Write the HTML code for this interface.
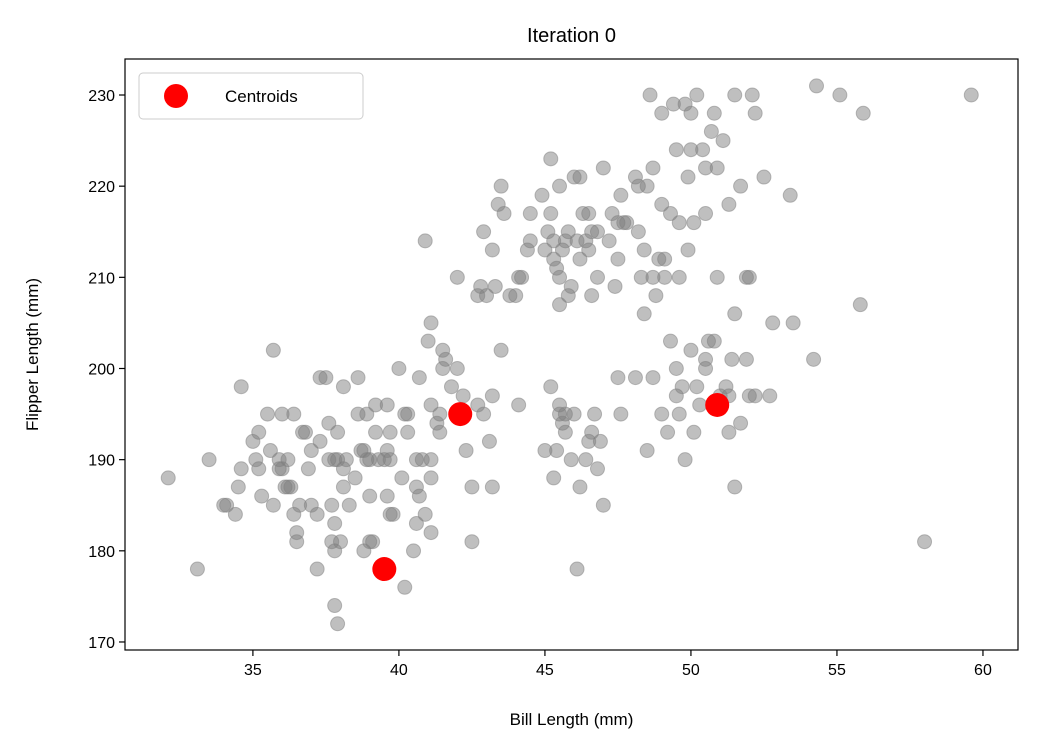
<!DOCTYPE html>
<html><head><meta charset="utf-8"><style>
body{margin:0;background:#fff;font-family:"Liberation Sans","DejaVu Sans",sans-serif}
</style></head><body>
<svg id="chart" width="1037" height="751" xmlns="http://www.w3.org/2000/svg"></svg>
<script>
const pointsX=[32.1,33.1,33.5,34.1,34.4,34.5,34.6,34.6,35,35.1,35.2,35.3,35.5,35.6,35.7,35.7,35.9,36,36,36.2,36.3,36.4,36.5,36.5,36.6,36.7,36.8,36.9,37,37.2,37.2,37.3,37.3,37.5,37.6,37.7,37.7,37.8,37.8,37.9,37.8,37.9,38,38.1,38.1,38.2,38.3,38.6,38.7,38.8,38.8,38.9,39,39,39.1,39.2,39.3,39.6,39.6,39.6,39.7,39.8,39.7,40.1,40.2,40.3,40.3,40.5,40.6,40.6,40.8,40.9,41,41.1,41.1,41.1,41.1,41.3,41.4,41.5,41.6,41.8,42,42.2,42.3,42.5,42.7,42.9,43.2,43.2,43.1,43.5,44.1,36.2,37.6,38.5,39.5,40.7,41.4,40,40.7,35.9,35.2,36.4,38.9,37.9,39.2,40.6,41.1,34,36.1,37.8,38.6,39.7,40.2,41.5,42.5,39,38.1,37,
45.2,45.4,45.5,45.6,45.7,45.7,45.9,46,46.1,46.2,46.4,46.5,46.6,46.7,46.8,47,47.5,47.6,48.1,48.5,49,49.2,49.3,49.5,49.6,49.7,49.8,50,50.1,50.2,50.3,50.5,50.6,50.8,51,51.2,51.3,51.4,51.5,51.7,51.9,52,52.2,52.7,53.5,54.2,55.8,58,52.8,52,51.9,50.9,51.5,49.6,45,45.3,49.5,46.9,45.5,50.5,48.7,51.3,
40.9,42,42.7,42.8,42.9,43.2,43.3,43.4,43.5,43.6,43.8,44,44.1,44.4,44.5,44.9,45.1,45.2,45.5,45.5,45.3,45.4,45.5,45.7,45.8,46.1,46.2,46.4,46.5,46.8,47,47.3,47.5,47.7,48.1,48.2,48.4,48.5,48.6,48.7,49,49.1,49.3,49.5,49.6,49.8,50,50.2,50.4,50.5,50.7,50.8,51.1,51.3,51.5,52.1,52.2,52.5,53.4,54.3,55.1,55.9,59.6,48.4,48.8,49.9,50.1,46.6,45.9,47.4,48.3,45,43,44.2,46.8,47.6,49,50.5,51.7,46,46.3,48.2,47.8,45.3,46.6,47.5,50.9,49.9,45.8,49.1,48.7,44.5,46.5,47.2,45.2,50,49.4,45.6,46.2,48.9];
const pointsY=[188,178,190,185,184,187,189,198,192,190,193,186,195,191,185,202,190,189,195,187,187,184,181,182,185,193,193,189,185,184,178,192,199,199,194,181,185,183,174,172,190,193,181,187,198,190,185,199,191,180,191,190,181,186,181,196,190,186,191,196,184,184,193,188,176,193,195,180,187,183,190,184,203,182,188,190,205,194,195,202,201,198,200,197,191,187,196,195,197,187,192,202,196,190,190,188,190,186,193,200,199,189,189,195,195,190,193,190,196,185,187,180,195,190,195,200,181,190,189,191,
198,191,196,194,195,193,190,195,178,187,190,192,193,195,189,185,199,195,199,191,195,193,203,200,195,198,190,202,193,198,196,201,203,203,197,198,193,201,187,194,201,197,197,197,205,201,207,181,205,210,210,210,206,210,191,188,197,192,195,200,199,197,
214,210,208,209,215,213,209,218,220,217,208,208,210,213,214,219,215,223,220,210,212,211,207,214,215,214,221,214,217,215,222,217,212,216,221,215,213,220,230,222,228,212,217,224,216,229,224,230,224,222,226,228,225,218,230,230,228,221,219,231,230,228,230,206,208,213,216,208,209,209,210,213,208,210,210,219,218,217,220,221,217,220,216,214,215,216,222,221,208,210,210,217,213,214,217,228,229,213,212,212];
const centroidX=[39.5,42.1,50.9];
const centroidY=[178,195,196];
const xTicks=[35,40,45,50,55,60];
const yTicks=[170,180,190,200,210,220,230];

const NS="http://www.w3.org/2000/svg";
const svg=document.getElementById('chart');
const L=125,R=1018,T=59,B=650;
const xMin=30.62,xMax=61.2,yMin=169.12,yMax=233.95;
const sx=v=>L+(v-xMin)/(xMax-xMin)*(R-L);
const sy=v=>B-(v-yMin)/(yMax-yMin)*(B-T);
function mk(tag,attrs,parent){const e=document.createElementNS(NS,tag);for(const k in attrs)e.setAttribute(k,attrs[k]);(parent||svg).appendChild(e);return e;}

const title=mk('text',{x:(L+R)/2,y:42,'text-anchor':'middle','font-size':'20','fill':'#000'});
title.textContent='Iteration 0';



const pts=mk('g',{});


for(let i=0;i<pointsX.length;i++){
  const c=mk('circle',{cx:sx(pointsX[i]),cy:sy(pointsY[i]),r:7,fill:'#808080','fill-opacity':0.5,stroke:'#808080','stroke-opacity':0.5},pts);
  
  
}
for(let i=0;i<centroidX.length;i++){
  const c=mk('circle',{cx:sx(centroidX[i]),cy:sy(centroidY[i]),r:12,fill:'#ff0000'});
  
  
}
const frame=mk('rect',{x:L,y:T,width:R-L,height:B-T,fill:'none',stroke:'#000','stroke-width':1.2});



xTicks.forEach(t=>{
  const x=sx(t);
  const tk=mk('line',{x1:x,x2:x,y1:B,y2:B+6,stroke:'#000','stroke-width':1.2});
  
  
  const tx=mk('text',{x:x,y:B+25,'text-anchor':'middle','font-size':'16'});
  tx.textContent=t;
  
  
});
yTicks.forEach(t=>{
  const y=sy(t);
  const tk=mk('line',{x1:L-6,x2:L,y1:y,y2:y,stroke:'#000','stroke-width':1.2});
  
  
  const tx=mk('text',{x:L-10,y:y+6,'text-anchor':'end','font-size':'16'});
  tx.textContent=t;
  
  
});
const xl=mk('text',{x:(L+R)/2,y:725,'text-anchor':'middle','font-size':'17'});
xl.textContent='Bill Length (mm)';


const yl=mk('text',{x:0,y:0,'text-anchor':'middle','font-size':'17',transform:'translate(38,'+((T+B)/2)+') rotate(-90)'});
yl.textContent='Flipper Length (mm)';



const lg=mk('g',{});


mk('rect',{x:139,y:73,width:224,height:46,rx:4,fill:'#fff','fill-opacity':0.8,stroke:'#ccc'},lg);
const lm=mk('circle',{cx:176,cy:96,r:12,fill:'#ff0000'},lg);


const lt=mk('text',{x:225,y:102,'font-size':'17'},lg);
lt.textContent='Centroids';


</script>
</body></html>
